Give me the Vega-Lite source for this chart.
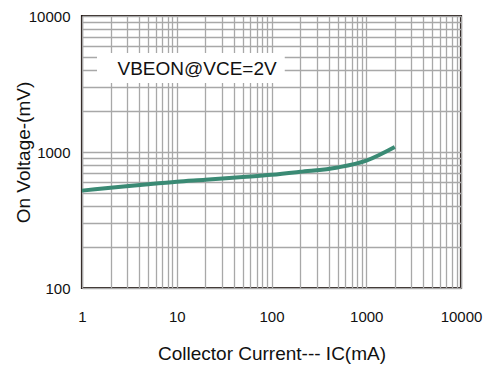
{
  "$schema": "https://vega.github.io/schema/vega-lite/v6.json",
  "width": 379,
  "height": 272,
  "autosize": "none",
  "padding": {"left": 82, "top": 16, "right": 25, "bottom": 80},
  "background": "white",
  "config": {
    "view": {"stroke": "#231815", "strokeWidth": 2.2},
    "font": "Liberation Sans",
    "axis": {
      "domain": false,
      "ticks": false,
      "grid": true,
      "gridColor": "#a8a8a8",
      "gridWidth": 1.3,
      "gridOpacity": 1,
      "labelFont": "Liberation Sans",
      "labelFontSize": 15,
      "labelColor": "#111",
      "labelOverlap": false,
      "labelFlush": false,
      "titleFont": "Liberation Sans",
      "titleFontSize": 19,
      "titleFontWeight": "normal",
      "titleColor": "#111"
    }
  },
  "datasets": {
    "curve": [
      {"ic": 1, "v": 520},
      {"ic": 2, "v": 545},
      {"ic": 5, "v": 580},
      {"ic": 10, "v": 605},
      {"ic": 20, "v": 625},
      {"ic": 50, "v": 655},
      {"ic": 100, "v": 680},
      {"ic": 200, "v": 715},
      {"ic": 500, "v": 770},
      {"ic": 1000, "v": 865},
      {"ic": 2000, "v": 1090}
    ],
    "note": [
      {"x1": 1.44, "x2": 138, "y1": 3217, "y2": 5346, "tx": 16.4, "ty": 4075, "label": "VBEON@VCE=2V"}
    ]
  },
  "layer": [
    {
      "data": {"name": "note"},
      "mark": {"type": "rect", "fill": "white", "stroke": null},
      "encoding": {
        "x": {
          "field": "x1", "type": "quantitative",
          "scale": {"type": "log", "domain": [1, 10000], "nice": false},
          "axis": {
            "title": "Collector Current--- IC(mA)",
            "values": [1,2,3,4,5,6,7,8,9,10,20,30,40,50,60,70,80,90,100,200,300,400,500,600,700,800,900,1000,2000,3000,4000,5000,6000,7000,8000,9000,10000],
            "format": "d",
            "labelExpr": "indexof([1,10,100,1000,10000], datum.value) >= 0 ? datum.label : ''",
            "labelPadding": 21,
            "titlePadding": 20
          }
        },
        "x2": {"field": "x2"},
        "y": {
          "field": "y1", "type": "quantitative",
          "scale": {"type": "log", "domain": [100, 10000], "nice": false},
          "axis": {
            "title": "On Voltage-(mV)",
            "values": [100,200,300,400,500,600,700,800,900,1000,2000,3000,4000,5000,6000,7000,8000,9000,10000],
            "format": "d",
            "labelExpr": "indexof([100,1000,10000], datum.value) >= 0 ? datum.label : ''",
            "labelPadding": 12,
            "titlePadding": -5
          }
        },
        "y2": {"field": "y2"}
      }
    },
    {
      "data": {"name": "note"},
      "mark": {"type": "text", "fontSize": 19, "color": "#111", "font": "Liberation Sans"},
      "encoding": {
        "x": {"field": "tx", "type": "quantitative"},
        "y": {"field": "ty", "type": "quantitative"},
        "text": {"field": "label"}
      }
    },
    {
      "data": {"name": "curve"},
      "mark": {"type": "line", "color": "#3a8a74", "strokeWidth": 4, "interpolate": "monotone"},
      "encoding": {
        "x": {"field": "ic", "type": "quantitative"},
        "y": {"field": "v", "type": "quantitative"}
      }
    }
  ]
}
